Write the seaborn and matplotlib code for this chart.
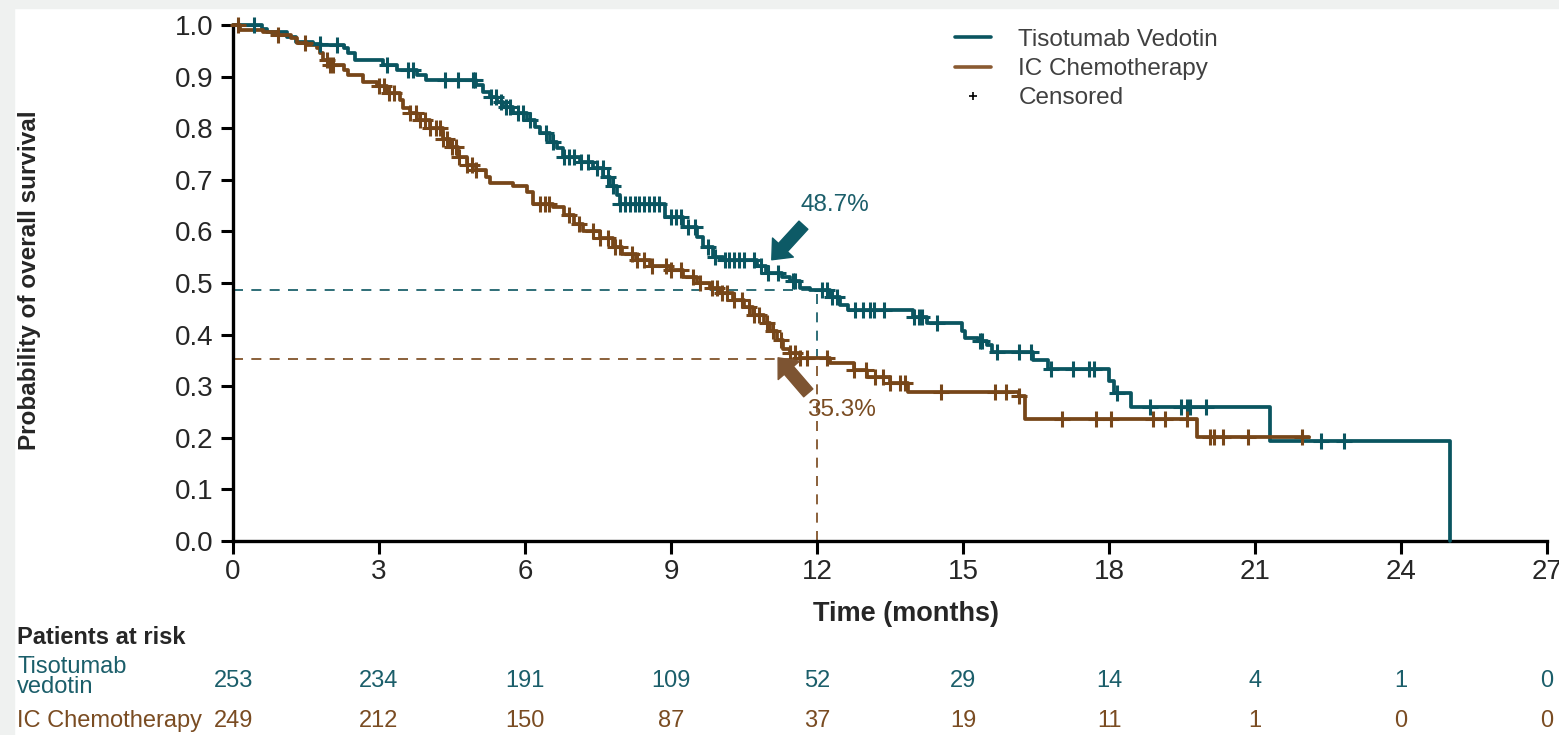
import numpy as np
import pandas as pd
import matplotlib.pyplot as plt
import seaborn as sns
from matplotlib.lines import Line2D
from matplotlib.patches import Rectangle
import matplotlib.transforms as mtransforms

# Kaplan-Meier steps (time in months, survival after the step)
tv_time = [0, 0.6, 0.7, 1.1, 1.3, 1.65, 1.8, 2.27, 2.37, 2.5, 3.09, 3.36, 3.77, 3.97,
           5.0, 5.14, 5.28, 5.42, 5.55, 5.76, 6.03, 6.2, 6.31, 6.51, 6.65, 6.79, 7.13,
           7.4, 7.61, 7.74, 7.88, 7.95, 8.87, 9.25, 9.53, 9.66, 9.87, 10.07, 10.76,
           10.96, 11.27, 11.44, 11.65, 11.85, 12.27, 12.47, 12.64, 13.98, 14.25, 14.97,
           15.05, 15.3, 15.5, 15.6, 16.44, 16.75, 18.0, 18.1, 18.45, 21.3, 25.0]
tv_surv = [1.0, 0.993, 0.987, 0.977, 0.968, 0.964, 0.961, 0.955, 0.945, 0.933, 0.922,
           0.913, 0.903, 0.893, 0.884, 0.871, 0.861, 0.851, 0.842, 0.829, 0.816, 0.803,
           0.790, 0.774, 0.761, 0.745, 0.735, 0.722, 0.706, 0.687, 0.671, 0.654, 0.628,
           0.609, 0.590, 0.570, 0.551, 0.545, 0.532, 0.519, 0.512, 0.503, 0.490, 0.487,
           0.473, 0.457, 0.448, 0.435, 0.422, 0.406, 0.393, 0.387, 0.380, 0.367, 0.351,
           0.333, 0.310, 0.287, 0.260, 0.194, 0.0]
tv_cens = [0.42, 1.79, 2.13, 3.16, 3.6, 3.7, 4.36, 4.63, 4.94, 4.97, 5.3, 5.4, 5.5, 5.6,
           5.69, 5.85, 5.95, 6.1, 6.44, 6.58, 6.8, 6.9, 7.0, 7.15, 7.3, 7.47, 7.6, 7.7,
           7.8, 7.95, 8.05, 8.15, 8.25, 8.35, 8.45, 8.55, 8.65, 8.75, 9.0, 9.1, 9.2,
           9.35, 9.5, 9.75, 9.9, 10.1, 10.2, 10.3, 10.4, 10.5, 10.7, 10.85, 11.0, 11.2,
           11.5, 11.55, 12.1, 12.2, 12.3, 12.4, 12.77, 12.95, 13.08, 13.18, 13.38, 14.0,
           14.1, 14.15, 14.46, 15.35, 15.4, 15.7, 16.15, 16.4, 16.8, 17.26, 17.58, 17.7,
           18.17, 18.85, 19.47, 19.6, 19.67, 19.99, 22.36, 22.83]

ic_time = [0, 0.14, 0.62, 0.93, 1.2, 1.31, 1.51, 1.72, 1.79, 1.85, 1.99, 2.27, 2.37, 2.67,
           2.95, 3.16, 3.43, 3.5, 3.64, 3.77, 4.05, 4.32, 4.46, 4.63, 4.8, 5.0, 5.2, 5.28,
           5.76, 6.03, 6.17, 6.58, 6.8, 7.0, 7.2, 7.54, 7.8, 8.0, 8.29, 8.56, 8.97, 9.25,
           9.53, 9.8, 10.0, 10.28, 10.49, 10.69, 10.9, 11.03, 11.17, 11.3, 11.44, 11.65,
           12.27, 12.75, 13.02, 13.5, 13.87, 16.16, 16.28, 19.8, 22.1]
ic_surv = [1.0, 0.990, 0.987, 0.981, 0.974, 0.966, 0.961, 0.955, 0.945, 0.932, 0.922,
           0.913, 0.903, 0.890, 0.881, 0.868, 0.855, 0.839, 0.829, 0.816, 0.800, 0.780,
           0.764, 0.745, 0.729, 0.719, 0.706, 0.693, 0.687, 0.677, 0.654, 0.648, 0.632,
           0.615, 0.600, 0.587, 0.570, 0.557, 0.545, 0.532, 0.525, 0.512, 0.499, 0.490,
           0.480, 0.467, 0.454, 0.438, 0.422, 0.406, 0.390, 0.373, 0.364, 0.354, 0.344,
           0.331, 0.318, 0.306, 0.289, 0.280, 0.236, 0.202, 0.202]
ic_cens = [0.1, 0.93, 1.48, 1.93, 2.0, 2.06, 3.0, 3.1, 3.2, 3.3, 3.64, 3.75, 3.85, 3.95,
           4.05, 4.18, 4.25, 4.32, 4.4, 4.5, 4.58, 4.65, 4.8, 4.9, 5.0, 6.3, 6.4, 6.5,
           6.9, 7.1, 7.4, 7.55, 7.7, 7.85, 7.95, 8.2, 8.3, 8.45, 8.6, 8.9, 9.0, 9.2,
           9.45, 9.6, 9.85, 9.95, 10.05, 10.15, 10.3, 10.45, 10.6, 10.7, 10.8, 10.97,
           11.1, 11.25, 11.45, 11.55, 11.65, 11.8, 12.2, 12.75, 13.0, 13.2, 13.35, 13.5,
           13.7, 13.8, 14.54, 15.65, 15.88, 16.16, 17.03, 17.74, 18.05, 18.9, 19.16,
           19.6, 20.07, 20.15, 20.34, 20.86, 21.96]

risk_months = [0, 3, 6, 9, 12, 15, 18, 21, 24, 27]
tv_risk = [253, 234, 191, 109, 52, 29, 14, 4, 1, 0]
ic_risk = [249, 212, 150, 87, 37, 19, 11, 1, 0, 0]

tv_12m = 0.487
ic_12m = 0.353

TEAL = "#0a5560"
BROWN = "#774619"
TEAL_TXT = "#1b5e6a"
BROWN_TXT = "#7a4c22"

sns.set_style("white")
plt.rcParams["font.family"] = ["Liberation Sans", "DejaVu Sans"]

fig = plt.figure(figsize=(15.59, 7.35), dpi=100)
ax = fig.add_axes([0.1495, 0.264, 0.8428, 0.702])

# light grey frame strip seen at top/left of the screenshot
fig.patches.append(Rectangle((0, 0), 0.009, 1, transform=fig.transFigure,
                             color="#eff1f0", zorder=-5))
fig.patches.append(Rectangle((0, 0.989), 1, 0.011, transform=fig.transFigure,
                             color="#eff1f0", zorder=-5))


def censor_y(times, surv, cens):
    idx = np.searchsorted(times, cens, side="right") - 1
    return np.asarray(surv)[idx]


for t, s, c, col in [(tv_time, tv_surv, tv_cens, TEAL), (ic_time, ic_surv, ic_cens, BROWN)]:
    sns.lineplot(x=t, y=s, ax=ax, color=col, lw=2.7, drawstyle="steps-post",
                 estimator=None, sort=False, clip_on=False, zorder=3)
    sns.scatterplot(x=c, y=censor_y(t, s, c), ax=ax, marker="+", s=130, color=col,
                    linewidth=2.2, zorder=4, clip_on=False)

# 12-month reference lines
ax.plot([0, 12], [tv_12m, tv_12m], color=TEAL, lw=1.2, dashes=(6, 5), zorder=2)
ax.plot([12, 12], [ic_12m, tv_12m], color=TEAL, lw=1.2, dashes=(6, 5), zorder=2)
ax.plot([0, 12], [ic_12m, ic_12m], color=BROWN, lw=1.2, dashes=(6, 5), zorder=2)
ax.plot([12, 12], [0, ic_12m], color=BROWN, lw=1.2, dashes=(6, 5), zorder=2)

ax.annotate("", xy=(11.07, 0.545), xytext=(11.72, 0.612),
            arrowprops=dict(arrowstyle="simple,head_length=0.85,head_width=1.45,tail_width=0.62",
                            mutation_scale=14, color="#0d5a66", shrinkA=0, shrinkB=0), zorder=5)
ax.annotate("", xy=(11.2, 0.355), xytext=(11.82, 0.287),
            arrowprops=dict(arrowstyle="simple,head_length=0.85,head_width=1.45,tail_width=0.62",
                            mutation_scale=14, color="#7d5432", shrinkA=0, shrinkB=0), zorder=5)
ax.text(11.65, 0.651, "48.7%", color=TEAL_TXT, fontsize=17.5, va="center", ha="left")
ax.text(11.8, 0.254, "35.3%", color=BROWN_TXT, fontsize=17.5, va="center", ha="left")

ax.set_xlim(0, 27)
ax.set_ylim(0, 1.0)
ax.set_xticks(risk_months)
ax.set_yticks(np.arange(0, 1.01, 0.1))
ax.set_yticklabels([f"{v:.1f}" for v in np.arange(0, 1.01, 0.1)])
ax.tick_params(axis="both", direction="out", length=9, width=2.2, labelsize=20,
               color="black", bottom=True, left=True)
ax.tick_params(axis="y", pad=5)
ax.tick_params(axis="x", pad=4)
for side in ["top", "right"]:
    ax.spines[side].set_visible(False)
for side in ["left", "bottom"]:
    ax.spines[side].set_linewidth(2.4)
    ax.spines[side].set_color("black")
ax.set_xlabel("Time (months)", fontsize=19.5, fontweight="bold")
ax.xaxis.set_label_coords(0.512, -0.117)
ax.set_ylabel("Probability of overall survival", fontsize=17.5, fontweight="bold")
ax.yaxis.set_label_coords(-0.146, 0.505)

handles = [Line2D([], [], color=TEAL, lw=2.6),
           Line2D([], [], color="#8a5a32", lw=2.6),
           Line2D([], [], color="black", marker="+", ls="none", markersize=6, mew=1.2)]
leg = ax.legend(handles, ["Tisotumab Vedotin", "IC Chemotherapy", "Censored"],
                loc="upper left", bbox_to_anchor=(0.533, 1.035), frameon=False,
                fontsize=17.5, handlelength=1.45, handletextpad=1.15, labelspacing=0.3)
for txt in leg.get_texts():
    txt.set_color("#404040")

# patients at risk table
blend = mtransforms.blended_transform_factory(ax.transData, fig.transFigure)
fig.text(0.011, 0.132, "Patients at risk", fontsize=17, fontweight="bold", va="center")
fig.text(0.011, 0.079, "Tisotumab\nvedotin", fontsize=17, color=TEAL_TXT, va="center",
         linespacing=0.9)
fig.text(0.011, 0.019, "IC Chemotherapy", fontsize=17, color=BROWN_TXT, va="center")
for m, a, b in zip(risk_months, tv_risk, ic_risk):
    ax.text(m, 0.074, str(a), transform=blend, ha="center", va="center", fontsize=17,
            color=TEAL_TXT)
    ax.text(m, 0.019, str(b), transform=blend, ha="center", va="center", fontsize=17,
            color=BROWN_TXT)

fig.savefig("out.png", dpi=100)
